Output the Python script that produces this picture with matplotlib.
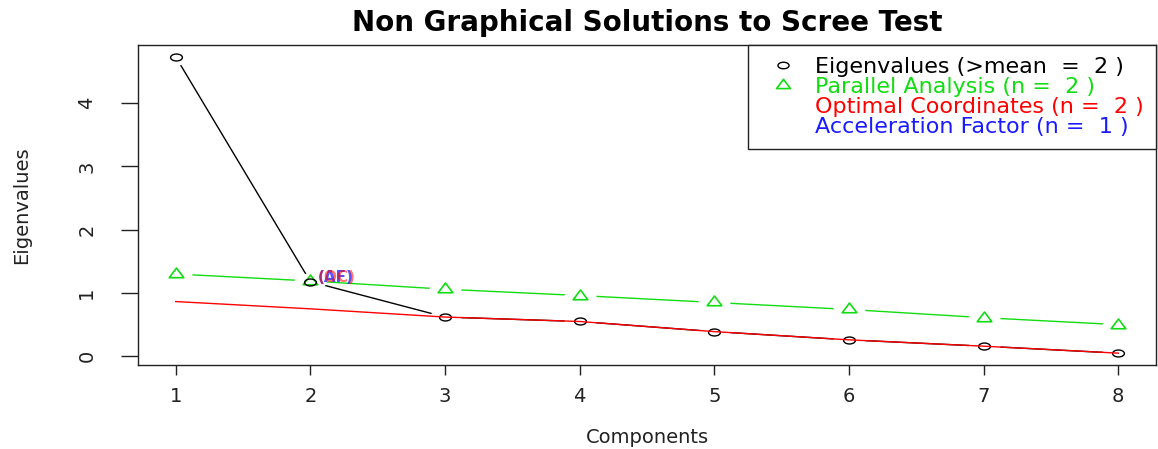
import numpy as np
import matplotlib
matplotlib.use("Agg")
import matplotlib.pyplot as plt
from matplotlib.path import Path
from matplotlib.transforms import Affine2D
from matplotlib.lines import Line2D

# ---- data ----
components = [1, 2, 3, 4, 5, 6, 7, 8]
eigenvalues = [4.73, 1.18, 0.62, 0.55, 0.39, 0.26, 0.16, 0.05]
parallel = [1.30, 1.19, 1.06, 0.96, 0.85, 0.74, 0.61, 0.50]
optimal_coord = [0.865, 0.75, 0.62, 0.55, 0.39, 0.26, 0.16, 0.05]
yticks = [0, 1, 2, 3, 4]
legend_labels = ["Eigenvalues (>mean  =  2 )", "Parallel Analysis (n =  2 )",
                 "Optimal Coordinates (n =  2 )", "Acceleration Factor (n =  1 )"]
title = "Non Graphical Solutions to Scree Test"
xlabel = "Components"
ylabel = "Eigenvalues"

plt.rcParams['font.family'] = ['DejaVu Sans']

GREEN = '#11dd11'
RED = '#ff0000'
BLUE = '#1a1aff'

# wide (stretched) marker shapes
ellipse = Path(Affine2D().scale(1.7, 1.0).transform(Path.unit_circle().vertices),
               Path.unit_circle().codes)
tri_verts = [(-0.75, -1/3), (0.75, -1/3), (0.0, 2/3), (-0.75, -1/3)]
triangle = Path(tri_verts, [Path.MOVETO, Path.LINETO, Path.LINETO, Path.CLOSEPOLY])
halo = Path(Affine2D().scale(2.0, 1.0).transform(Path.unit_circle().vertices),
            Path.unit_circle().codes)

fig = plt.figure(figsize=(11.58, 4.49), dpi=100)
ax = fig.add_axes([138/1158, 1 - 365/449, (1156 - 138)/1158, (365 - 45)/449])

# lines (type = "b" : gaps around the points via white halos)
ax.plot(components, parallel, color=GREEN, lw=1.0, zorder=2)
ax.plot(components, eigenvalues, color='black', lw=1.0, zorder=2)
ax.plot(components, parallel, ls='none', marker=halo, ms=23, mfc='white', mec='none', zorder=3)
ax.plot(components, eigenvalues, ls='none', marker=halo, ms=23, mfc='white', mec='none', zorder=3)
ax.plot(components, parallel, ls='none', marker=triangle, ms=10.5, mfc='none', mec=GREEN, mew=1.2, zorder=4)
ax.plot(components, eigenvalues, ls='none', marker=ellipse, ms=8.5, mfc='none', mec='black', mew=1.0, zorder=4)
ax.plot(components, optimal_coord, color=RED, lw=1.0, zorder=5)

# AF / OC labels at component 2
ax.annotate("(AF)", xy=(components[1], eigenvalues[1]), xytext=(5, 3), textcoords='offset points',
            ha='left', va='center', color=BLUE, fontsize=11, fontweight='bold', alpha=0.75, zorder=6)
ax.annotate("(OC)", xy=(components[1], eigenvalues[1]), xytext=(5, 3), textcoords='offset points',
            ha='left', va='center', color=RED, fontsize=11, fontweight='bold', alpha=0.55, zorder=6)

ax.margins(x=0.04, y=0.04)
ax.set_xticks(components)
ax.set_yticks(yticks)
ax.set_xticklabels([str(c) for c in components], fontsize=14)
ax.set_yticklabels([str(v) for v in yticks], fontsize=14, rotation=90, va='center')
ax.tick_params(axis='x', length=7, width=1, pad=9, colors='#222222')
ax.tick_params(axis='y', length=12, width=1, pad=18, colors='#222222')
for s in ax.spines.values():
    s.set_linewidth(1.0)
    s.set_color('#222222')

ax.set_title(title, fontsize=20, fontweight='bold', pad=10)
ax.set_xlabel(xlabel, fontsize=14, labelpad=16, color='#222222')
ax.set_ylabel(ylabel, fontsize=14, labelpad=33, color='#222222')

handles = [Line2D([], [], ls='none', marker=ellipse, ms=8, mfc='none', mec='black'),
           Line2D([], [], ls='none', marker=triangle, ms=10, mfc='none', mec=GREEN, mew=1.2),
           Line2D([], [], ls='none'),
           Line2D([], [], ls='none')]
leg = ax.legend(handles, legend_labels, loc='upper right', bbox_to_anchor=(1.0, 1.0),
                borderaxespad=0, fontsize=16, frameon=True, fancybox=False, framealpha=1,
                edgecolor='#222222', labelspacing=0.0, handlelength=2.0, handletextpad=0.45,
                borderpad=0.55)
leg.get_frame().set_linewidth(1.0)
for t, c in zip(leg.get_texts(), ['black', GREEN, RED, BLUE]):
    t.set_color(c)

fig.savefig("out.png", dpi=100)
